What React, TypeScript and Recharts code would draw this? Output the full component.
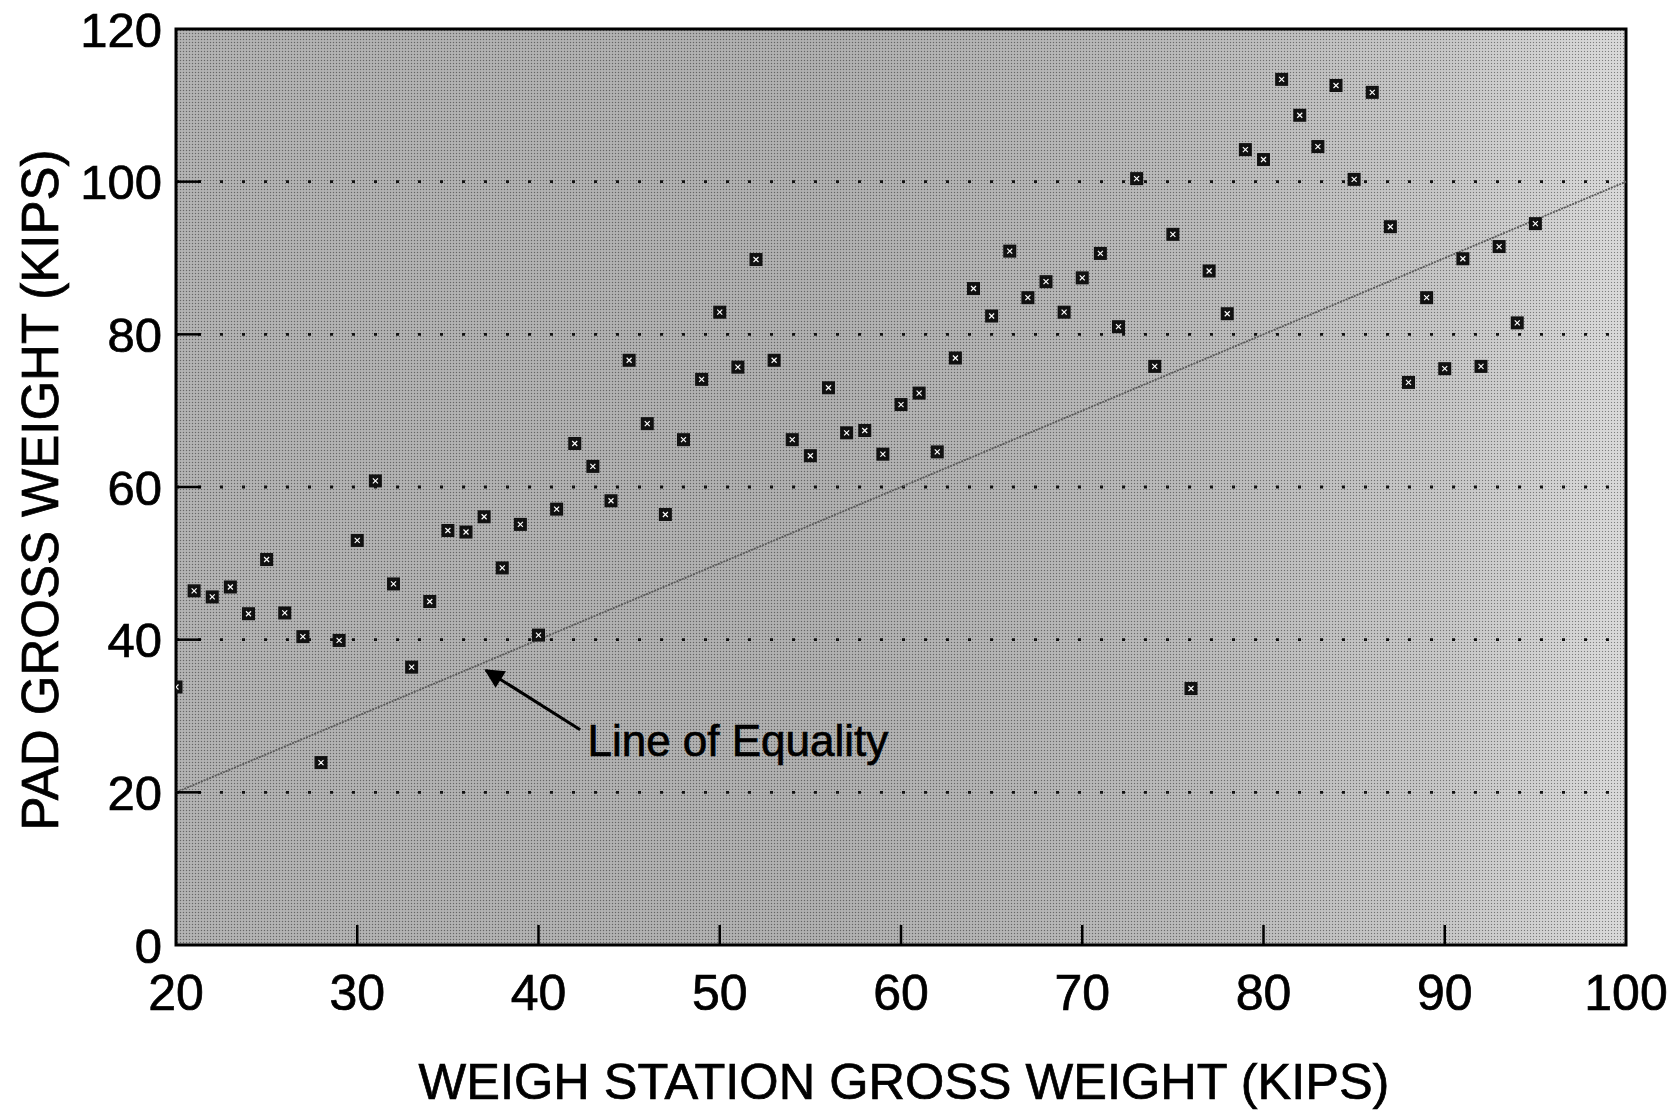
import React from "react";
import {
  ScatterChart,
  Scatter,
  XAxis,
  YAxis,
  CartesianGrid,
  ReferenceLine,
  ReferenceArea,
  ReferenceDot,
} from "recharts";

const weighStation = [
  20, 21, 22, 23, 24, 25, 26, 27, 28, 29, 30, 31, 32, 33, 34, 35, 36, 37, 38, 39,
  40, 41, 42, 43, 44, 45, 46, 47, 48, 49, 50, 51, 52, 53, 54, 55, 56, 57, 58, 59,
  60, 61, 62, 63, 64, 65, 66, 67, 68, 69, 70, 71, 72, 73, 74, 75, 76, 77, 78, 79,
  80, 81, 82, 83, 84, 85, 86, 87, 88, 89, 90, 91, 92, 93, 94, 95,
];
const padWeight = [
  33.8, 46.4, 45.6, 46.9, 43.4, 50.5, 43.5, 40.4, 23.9, 39.9, 53.0, 60.8, 47.3, 36.4, 45.0, 54.3, 54.1, 56.1, 49.4, 55.1,
  40.6, 57.1, 65.7, 62.7, 58.2, 76.6, 68.3, 56.4, 66.2, 74.1, 82.9, 75.7, 89.8, 76.6, 66.2, 64.1, 73.0, 67.1, 67.4, 64.3,
  70.8, 72.3, 64.6, 76.9, 86.0, 82.4, 90.9, 84.8, 86.9, 82.9, 87.4, 90.6, 81.0, 100.4, 75.8, 93.1, 33.6, 88.3, 82.7, 104.2,
  102.9, 113.4, 108.7, 104.6, 112.6, 100.3, 111.7, 94.1, 73.7, 84.8, 75.5, 89.9, 75.8, 91.5, 81.5, 94.5,
];
const xTicks = [20, 30, 40, 50, 60, 70, 80, 90, 100];
const yTicks = [0, 20, 40, 60, 80, 100, 120];
const gridValues = [20, 40, 60, 80, 100];
const equalityLine = [
  { x: 20, y: 20 },
  { x: 100, y: 100 },
];
const arrowSegment = [
  { x: 42.3, y: 28.2 },
  { x: 37.1, y: 36.0 },
];
const annotation = { x: 42.7, y: 24.8, text: "Line of Equality" };
const xTitle = "WEIGH STATION GROSS WEIGHT (KIPS)";
const yTitle = "PAD GROSS WEIGHT (KIPS)";

const data = weighStation.map((x, i) => ({ x, y: padWeight[i] }));

const FONT = "'Liberation Sans', Arial, Helvetica, sans-serif";
const TEXT_STROKE = { stroke: "#000", strokeWidth: 0.7 };

const YTick = (props: any) => {
  const { x, y, payload } = props;
  const v = payload.value;
  return (
    <g>
      {v !== 0 && v !== 120 && (
        <line x1={x} x2={x + 25} y1={y} y2={y} stroke="#000" strokeWidth={2.5} />
      )}
      <text
        x={x - 14}
        y={y}
        dy="0.36em"
        textAnchor="end"
        fontSize={49}
        fontFamily={FONT}
        fill="#000"
        {...TEXT_STROKE}
      >
        {v}
      </text>
    </g>
  );
};

const XTick = (props: any) => {
  const { x, y, payload } = props;
  const v = payload.value;
  return (
    <g>
      {v !== 20 && v !== 100 && (
        <line x1={x} x2={x} y1={y} y2={y - 20} stroke="#000" strokeWidth={2.5} />
      )}
      <text
        x={x}
        y={y + 65}
        textAnchor="middle"
        fontSize={50}
        fontFamily={FONT}
        fill="#000"
        {...TEXT_STROKE}
      >
        {v}
      </text>
    </g>
  );
};

const Marker = (props: any) => {
  const { cx, cy } = props;
  if (cx == null || cy == null) return null;
  const s = 13;
  return (
    <g>
      <rect x={cx - s / 2} y={cy - s / 2} width={s} height={s} fill="#111" />
      <path
        d={`M${cx - 2.5},${cy - 2.5} L${cx + 2.5},${cy + 2.5} M${cx + 2.5},${cy - 2.5} L${cx - 2.5},${cy + 2.5}`}
        stroke="#fff"
        strokeWidth={1.2}
      />
    </g>
  );
};

const AnnotationText = (props: any) => {
  const { cx, cy } = props;
  return (
    <text x={cx} y={cy} fontSize={44} fontFamily={FONT} fill="#000" {...TEXT_STROKE}>
      {annotation.text}
    </text>
  );
};

export default function App() {
  return (
    <div style={{ position: "absolute", left: 0, top: 0, width: 1675, height: 1112, background: "#fff" }}>
      <svg width={0} height={0} style={{ position: "absolute" }}>
        <defs>
          <linearGradient id="bgGrad" x1="0" y1="0" x2="1" y2="0">
            <stop offset="0" stopColor="#ababab" />
            <stop offset="0.45" stopColor="#a8a8a8" />
            <stop offset="0.7" stopColor="#b3b3b3" />
            <stop offset="0.88" stopColor="#c2c2c2" />
            <stop offset="1" stopColor="#d6d6d6" />
          </linearGradient>
          <pattern id="halftone" width="3" height="3" patternUnits="userSpaceOnUse">
            <rect x="0" y="0" width="1" height="1" fill="#000" fillOpacity="0.4" />
            <rect x="1.5" y="1.5" width="1" height="1" fill="#fff" fillOpacity="0.4" />
          </pattern>
          <marker
            id="arrowHead"
            viewBox="0 0 10 10"
            refX="9"
            refY="5"
            markerWidth="9"
            markerHeight="6.5"
            markerUnits="strokeWidth"
            orient="auto"
          >
            <path d="M0,0 L10,5 L0,10 z" fill="#000" />
          </marker>
        </defs>
      </svg>
      <ScatterChart
        width={1675}
        height={1112}
        margin={{ top: 29, right: 49, left: 0, bottom: 0 }}
      >
        <CartesianGrid horizontal={false} vertical={false} fill="url(#bgGrad)" />
        <XAxis
          type="number"
          dataKey="x"
          domain={[20, 100]}
          ticks={xTicks}
          interval={0}
          height={167}
          tickSize={0}
          tickMargin={0}
          axisLine={false}
          tickLine={false}
          tick={<XTick />}
          allowDataOverflow
          label={{
            content: (p: any) => {
              const vb = p.viewBox;
              return (
                <text
                  x={vb.x + vb.width / 2 + 3}
                  y={1099}
                  textAnchor="middle"
                  fontSize={50.5}
                  fontFamily={FONT}
                  fill="#000"
                  {...TEXT_STROKE}
                >
                  {xTitle}
                </text>
              );
            },
          }}
        />
        <YAxis
          type="number"
          dataKey="y"
          domain={[0, 120]}
          ticks={yTicks}
          interval={0}
          width={176}
          tickSize={0}
          tickMargin={0}
          axisLine={false}
          tickLine={false}
          tick={<YTick />}
          allowDataOverflow
          label={{
            content: () => (
              <text
                x={58}
                y={490}
                textAnchor="middle"
                fontSize={51}
                fontFamily={FONT}
                fill="#000"
                transform="rotate(-90, 58, 490)"
                {...TEXT_STROKE}
              >
                {yTitle}
              </text>
            ),
          }}
        />
        <ReferenceArea
          x1={20}
          x2={100}
          y1={0}
          y2={120}
          fill="url(#halftone)"
          fillOpacity={1}
          stroke="none"
        />
        {gridValues.map((v) => (
          <ReferenceLine
            key={v}
            y={v}
            stroke="#111"
            strokeWidth={2.8}
            strokeDasharray="3 19"
          />
        ))}
        <ReferenceLine
          segment={equalityLine}
          stroke="#5a5a5a"
          strokeWidth={1.8}
          strokeDasharray="2 1"
        />
        <ReferenceLine
          segment={arrowSegment}
          stroke="#000"
          strokeWidth={3}
          markerEnd="url(#arrowHead)"
        />
        <ReferenceDot x={annotation.x} y={annotation.y} r={0} shape={<AnnotationText />} />
        <Scatter data={data} isAnimationActive={false} shape={<Marker />} />
        <ReferenceArea
          x1={20}
          x2={100}
          y1={0}
          y2={120}
          fill="none"
          stroke="#000"
          strokeWidth={3}
        />
      </ScatterChart>
    </div>
  );
}
